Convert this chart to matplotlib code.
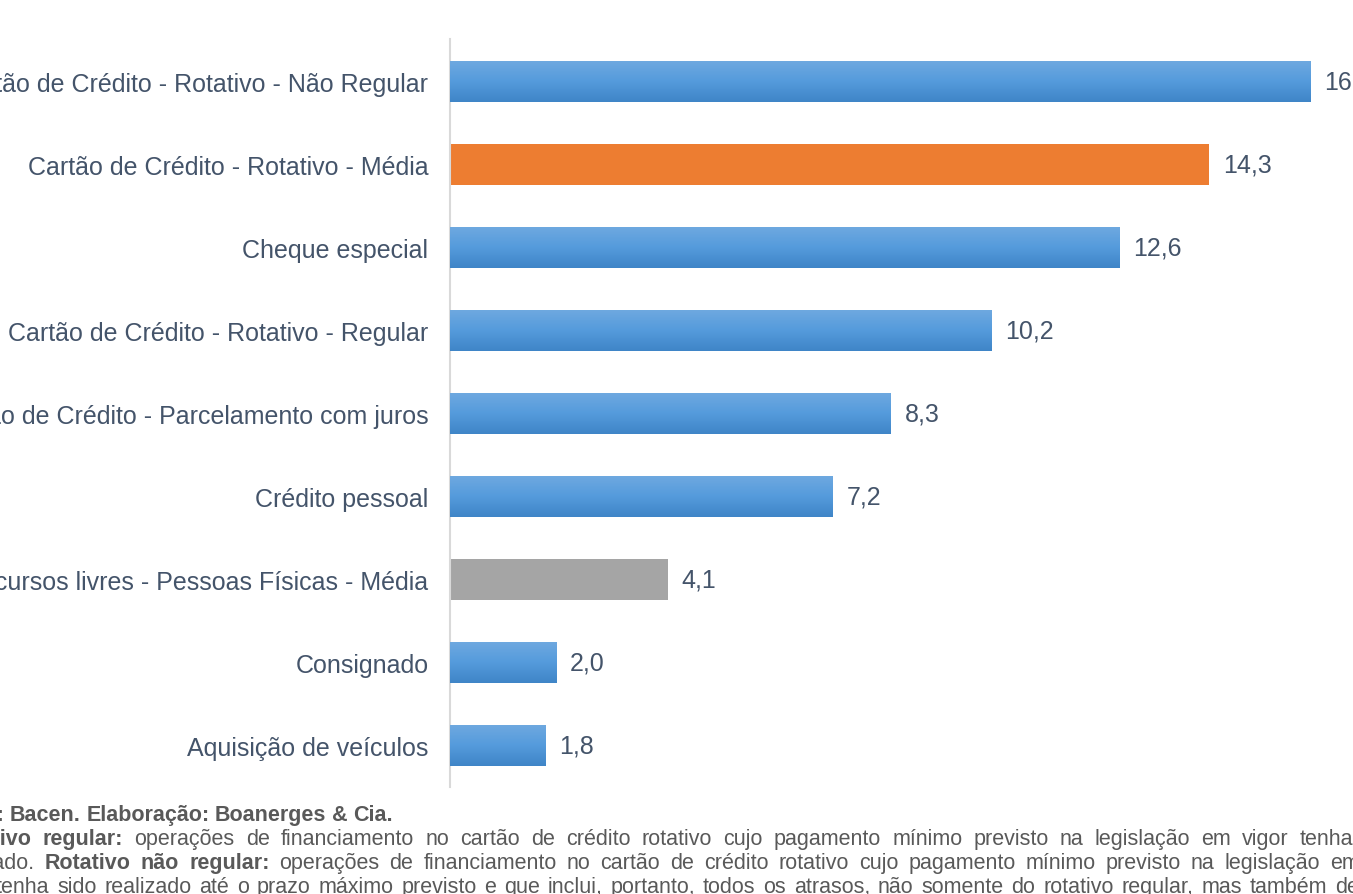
import matplotlib
matplotlib.use("Agg")
import matplotlib.pyplot as plt
import numpy as np
from matplotlib.colors import LinearSegmentedColormap

categories = [
    "Cartão de Crédito - Rotativo - Não Regular",
    "Cartão de Crédito - Rotativo - Média",
    "Cheque especial",
    "Cartão de Crédito - Rotativo - Regular",
    "Cartão de Crédito - Parcelamento com juros",
    "Crédito pessoal",
    "Recursos livres - Pessoas Físicas - Média",
    "Consignado",
    "Aquisição de veículos",
]
values = [16.2, 14.3, 12.6, 10.2, 8.3, 7.2, 4.1, 2.0, 1.8]
kinds = ["blue", "orange", "blue", "blue", "blue", "blue", "gray", "blue", "blue"]

W, H = 1353, 895
TEXT = "#44546a"
NOTE = "#595959"
plt.rcParams["font.family"] = ["Liberation Sans", "DejaVu Sans"]

fig = plt.figure(figsize=(W / 100, H / 100), dpi=100)
ax = fig.add_axes([450 / W, (H - 788) / H, (W - 450) / W, 748 / H])

y = np.arange(len(categories))
flat = {"orange": "#ed7d31", "gray": "#a5a5a5", "blue": "#5b9bd5"}
bars = ax.barh(y, values, height=0.5, color=[flat[k] for k in kinds], zorder=2)

# vertical gradient on the blue bars
blue_cmap = LinearSegmentedColormap.from_list("b", ["#6fa9e0", "#559bdc", "#3f85c7"])
grad = np.linspace(0, 1, 64).reshape(-1, 1)
for b, v, yy, k in zip(bars, values, y, kinds):
    if k == "blue":
        im = ax.imshow(grad, cmap=blue_cmap, aspect="auto",
                       extent=[0, v, yy + 0.25, yy - 0.25], zorder=3)
        im.set_clip_path(b)
    ax.text(v + 14 / 53.1, yy, f"{v:.1f}".replace(".", ","), va="center",
            ha="left", fontsize=18, color=TEXT)

ax.set_xlim(0, (W - 450) / 53.1)
ax.set_ylim(len(categories) - 0.5, -0.512)
ax.set_yticks(y)
ax.set_yticklabels(categories, fontsize=18, color=TEXT)
ax.tick_params(axis="y", length=0, pad=15.5)
ax.set_xticks([])
for s in ["top", "right", "bottom"]:
    ax.spines[s].set_visible(False)
ax.spines["left"].set_color("#d9d9d9")
ax.spines["left"].set_linewidth(1.5)

# footnote, laid out word by word so the lines are justified
renderer = fig.canvas.get_renderer()
FS = 15.5


def tokens(parts):
    out = []
    for txt, bold in parts:
        for w in txt.split():
            out.append((w, bold))
    return out


def width(word, bold):
    t = fig.text(0, 0, word, fontsize=FS, fontweight="bold" if bold else "normal")
    w = t.get_window_extent(renderer).width
    t.remove()
    return w


def put_line(parts, baseline, i_a, x_a, i_b=None, x_b=None, gap=5.5):
    toks = tokens(parts)
    ws = [width(w, b) for w, b in toks]
    if i_b is not None:
        gap = (x_b - x_a - sum(ws[i_a:i_b])) / (i_b - i_a)
    x = x_a - sum(ws[:i_a]) - gap * i_a
    for (w, b), wd in zip(toks, ws):
        fig.text(x / W, 1 - baseline / H, w, fontsize=FS, color=NOTE,
                 fontweight="bold" if b else "normal", va="baseline", ha="left")
        x += wd + gap


line1 = [("Fonte: Bacen. Elaboração: Boanerges & Cia.", True)]
line2 = [("Rotativo regular:", True),
         ("operações de financiamento no cartão de crédito rotativo cujo pagamento "
          "mínimo previsto na legislação em vigor tenha sido", False)]
line3 = [("realizado.", False), ("Rotativo não regular:", True),
         ("operações de financiamento no cartão de crédito rotativo cujo pagamento "
          "mínimo previsto na legislação em vigor não", False)]
line4 = [("tenha sido realizado até o prazo máximo previsto e que inclui, portanto, "
          "todos os atrasos, não somente do rotativo regular, mas também de", False)]

put_line(line1, 821, 1, 10, gap=5.5)
put_line(line2, 845, 1, 43, 18, 1300)
put_line(line3, 869, 1, 45, 18, 1330)
put_line(line4, 893, 12, 703, 22, 1335)

fig.savefig("out.png", dpi=100)
